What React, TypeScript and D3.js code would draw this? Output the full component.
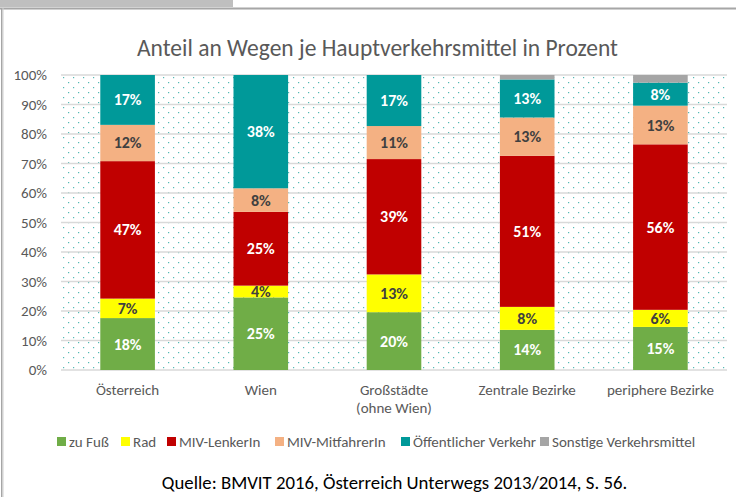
import React from "react";
import * as d3 from "d3";

const categories = ["Österreich", "Wien", "Großstädte|(ohne Wien)", "Zentrale Bezirke", "periphere Bezirke"];
const seriesNames = ["zu Fuß", "Rad", "MIV-LenkerIn", "MIV-MitfahrerIn", "Öffentlicher Verkehr", "Sonstige Verkehrsmittel"];
const zuFuss = [17.6, 24.6, 19.6, 13.6, 14.6];
const rad = [6.6, 4.0, 12.8, 7.8, 5.8];
const lenker = [46.6, 25.0, 39.1, 51.2, 56.1];
const mitfahrer = [12.3, 8.0, 11.2, 13.0, 13.1];
const oev = [16.9, 38.4, 17.3, 12.9, 7.8];
const sonstige = [0, 0, 0, 1.5, 2.6];
const yTicks = [0, 10, 20, 30, 40, 50, 60, 70, 80, 90, 100];

const colors = ["#70ad47", "#ffff00", "#c00000", "#f4b183", "#009999", "#a5a5a5"];
const labelColors = ["#ffffff", "#404040", "#ffffff", "#404040", "#ffffff", null];

const FONT = "Carlito, Calibri, Lato, sans-serif";
const W = 736, H = 497;
const plot = { left: 61, right: 727, top: 75, bottom: 370 };

export default function App() {
  const seriesArrays = [zuFuss, rad, lenker, mitfahrer, oev, sonstige];
  const rows = categories.map((c, i) => {
    const r: any = { cat: c };
    seriesNames.forEach((s, j) => (r[s] = seriesArrays[j][i]));
    return r;
  });
  const stacked = d3.stack().keys(seriesNames)(rows);
  const x = d3.scaleBand().domain(categories).range([plot.left, plot.right]).padding(0.59).paddingOuter(0.295);
  const y = d3.scaleLinear().domain([0, 100]).range([plot.bottom, plot.top]);

  const legendSq = [57, 121, 167, 275, 401, 540];

  return (
    <svg width={W} height={H} style={{ position: "absolute", left: 0, top: 0, background: "#fff" }} fontFamily={FONT}>
      <defs>
        <pattern id="dots" width={10} height={10} patternUnits="userSpaceOnUse" x={plot.left} y={plot.top}>
          <rect x={2} y={2} width={1.2} height={1.2} fill="#1aa39c" opacity={0.75} />
          <rect x={7} y={7} width={1.2} height={1.2} fill="#1aa39c" opacity={0.75} />
        </pattern>
      </defs>
      <rect x={0} y={0} width={W} height={H} fill="#fff" />
      <rect x={0} y={0} width={233} height={7} fill="#bfbfbf" />
      <rect x={0} y={7.5} width={W} height={1.5} fill="#a6a6a6" />
      <rect x={0} y={9} width={W} height={1} fill="#d0d0d0" />
      <rect x={1} y={8} width={1.5} height={H} fill="#a6a6a6" />
      <rect x={2.5} y={8} width={1} height={H} fill="#d0d0d0" />

      <text x={377.5} y={56} textAnchor="middle" fontSize={23.5} fill="#595959">
        Anteil an Wegen je Hauptverkehrsmittel in Prozent
      </text>

      <rect x={plot.left} y={plot.top} width={plot.right - plot.left} height={plot.bottom - plot.top} fill="url(#dots)" />
      {yTicks.map((t) => (
        <g key={t}>
          <line x1={plot.left} x2={plot.right} y1={y(t)} y2={y(t)} stroke="#d9d9d9" strokeWidth={1.5} />
          <text x={47} y={y(t) + 5} textAnchor="end" fontSize={15} fill="#595959">
            {t}%
          </text>
        </g>
      ))}

      {stacked.map((s, j) => (
        <g key={s.key}>
          {s.map((d, i) => {
            const h = y(d[0]) - y(d[1]);
            if (h <= 0) return null;
            return (
              <rect key={i} x={x(categories[i])} y={y(d[1])} width={x.bandwidth()} height={h} fill={colors[j]} />
            );
          })}
        </g>
      ))}
      {stacked.map((s, j) =>
        labelColors[j] ? (
          <g key={"l" + s.key}>
            {s.map((d, i) => (
              <text
                key={i}
                x={(x(categories[i]) as number) + x.bandwidth() / 2}
                y={(y(d[0]) + y(d[1])) / 2 + 5.5}
                textAnchor="middle"
                fontSize={16}
                fontWeight="bold"
                fill={labelColors[j] as string}
              >
                {Math.round(d[1] - d[0])}%
              </text>
            ))}
          </g>
        ) : null
      )}

      {categories.map((c, i) => (
        <text key={c} x={(x(c) as number) + x.bandwidth() / 2} y={395} textAnchor="middle" fontSize={15} fill="#595959">
          {c.split("|").map((line, k) => (
            <tspan key={k} x={(x(c) as number) + x.bandwidth() / 2} dy={k === 0 ? 0 : 18}>
              {line}
            </tspan>
          ))}
        </text>
      ))}

      {seriesNames.map((s, j) => (
        <g key={s}>
          <rect x={legendSq[j]} y={437} width={9} height={9} fill={colors[j]} />
          <text x={legendSq[j] + 12} y={446.5} fontSize={15} fill="#595959">
            {s}
          </text>
        </g>
      ))}

      <text x={394.5} y={489} textAnchor="middle" fontSize={18.8} fill="#000">
        Quelle: BMVIT 2016, Österreich Unterwegs 2013/2014, S. 56.
      </text>
    </svg>
  );
}
